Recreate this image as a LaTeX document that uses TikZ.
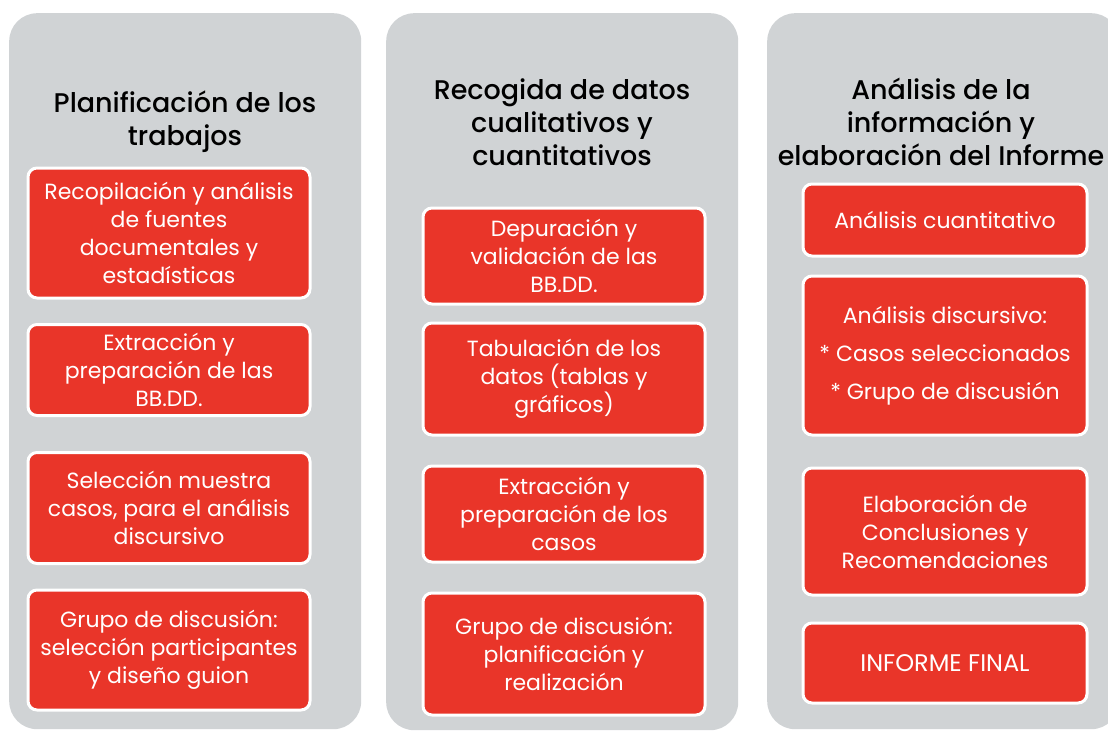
\documentclass[tikz,border=0pt]{standalone}
\usepackage{fontspec}
\setmainfont{Poppins}
\newfontfamily\titlefont{Poppins}[UprightFont=* Medium]
\definecolor{gris}{RGB}{208,211,213}
\definecolor{rojo}{RGB}{233,53,41}

\begin{document}
\begin{tikzpicture}[x=1pt,y=-1pt,
    columna/.style={fill=gris, rounded corners=28pt, inner sep=0pt, anchor=north west},
    caja/.style={fill=rojo, draw=white, line width=3pt, rounded corners=9pt, text=white,
        align=center, inner sep=0pt, minimum width=282pt,
        font=\fontsize{22}{28}\selectfont},
    titulo/.style={align=center, inner sep=0pt, font=\titlefont\fontsize{27}{33}\selectfont}]
    \useasboundingbox (0,0) rectangle (1108,731);
    % columnas
    \node [columna, minimum width=352pt, minimum height=716pt] (col1) at (9,13) {};
    \node [columna, minimum width=352pt, minimum height=717pt] (col2) at (386,13) {};
    \node [columna, minimum width=352pt, minimum height=716pt] (col3) at (767,13) {};
    % titulos
    \node [titulo] (t1) at (185,122) {Planificación de los\\trabajos};
    \node [titulo] (t2) at (562,122) {Recogida de datos\\cualitativos y\\cuantitativos};
    \node [titulo] (t3) at (941,122) {Análisis de la\\información y\\elaboración del Informe};
    % planificacion
    \node [caja, minimum height=130pt] (p1) at (169,233) {Recopilación y análisis\\de fuentes\\documentales y\\estadísticas};
    \node [caja, minimum height=91pt] (p2) at (169,370) {Extracción y\\preparación de las\\BB.DD.};
    \node [caja, minimum height=111pt] (p3) at (169,508) {Selección muestra\\casos, para el análisis\\discursivo};
    \node [caja, minimum height=120pt] (p4) at (169,650) {Grupo de discusión:\\selección participantes\\y diseño guion};
    % recogida
    \node [caja, minimum height=96pt] (r1) at (564,256) {Depuración y\\validación de las\\BB.DD.};
    \node [caja, minimum height=112pt] (r2) at (564,379) {Tabulación de los\\datos (tablas y\\gráficos)};
    \node [caja, minimum height=96pt] (r3) at (564,514) {Extracción y\\preparación de los\\casos};
    \node [caja, minimum height=122pt] (r4) at (564,654) {Grupo de discusión:\\planificación y\\realización};
    % analisis
    \node [caja, minimum width=284pt, minimum height=72pt] (a1) at (945,220) {Análisis cuantitativo};
    \node [caja, minimum width=284pt, minimum height=159pt, font=\fontsize{22}{38}\selectfont] (a2) at (945,355.5) {Análisis discursivo:\\* Casos seleccionados\\* Grupo de discusión};
    \node [caja, minimum width=284pt, minimum height=127pt] (a3) at (945,531.5) {Elaboración de\\Conclusiones y\\Recomendaciones};
    \node [caja, minimum width=284pt, minimum height=80pt, font=\fontsize{24}{28}\selectfont] (a4) at (945,663) {INFORME FINAL};
\end{tikzpicture}
\end{document}
